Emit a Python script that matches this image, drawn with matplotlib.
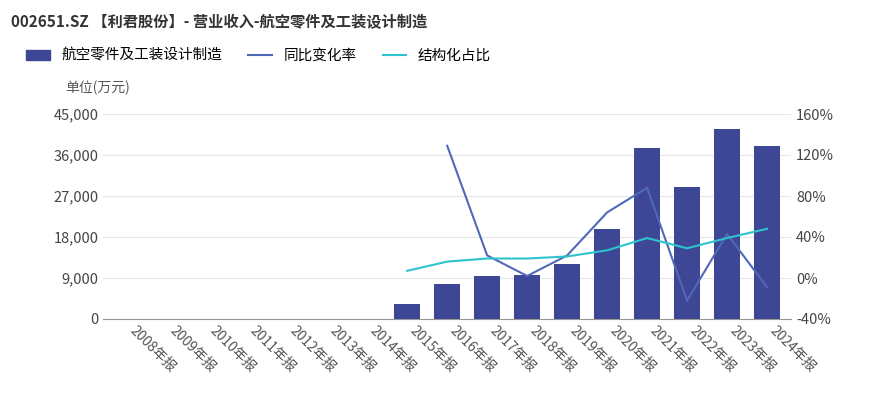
import matplotlib
matplotlib.use("Agg")
import matplotlib.pyplot as plt
from matplotlib.ticker import FuncFormatter

plt.rcParams["font.family"] = "Noto Sans CJK SC"

years = [f"{y}年报" for y in range(2008, 2025)]
revenue = [0, 0, 0, 0, 0, 0, 0, 3300, 7700, 9400, 9650, 12000, 19800, 37500, 29000, 41700, 38000]
yoy = [None]*8 + [129, 22, 2, 22, 64, 88, -22, 43, -9]
share = [None]*7 + [7, 16, 19, 19, 21, 27, 39, 29, 39, 48]

fig = plt.figure(figsize=(8.76, 4.0), dpi=100)
ax = fig.add_axes([0.118, 0.2025, 0.785, 0.5125])
x = list(range(len(years)))
ax.bar(x, revenue, width=0.65, color="#3e4795", zorder=3)
ax.set_ylim(0, 45000)
ax.set_yticks([0, 9000, 18000, 27000, 36000, 45000])
ax.yaxis.set_major_formatter(FuncFormatter(lambda v, p: f"{int(v):,}"))
ax.grid(axis="y", color="#e6e6e6", lw=0.8, zorder=0)
ax.set_xlim(-0.6, len(years) - 0.4)
ax.set_xticks(x)
ax.set_xticklabels(years, rotation=-45, ha="left", va="top", fontsize=10, color="#555")
for s in ["top", "right", "left"]:
    ax.spines[s].set_visible(False)
ax.spines["bottom"].set_color("#999")
ax.tick_params(axis="y", length=0, labelsize=10.5, labelcolor="#444")
ax.tick_params(axis="x", length=0)

ax2 = ax.twinx()
xy = [i for i, v in zip(x, yoy) if v is not None]
ax2.plot(xy, [v for v in yoy if v is not None], color="#5068b8", lw=1.5)
xs = [i for i, v in zip(x, share) if v is not None]
ax2.plot(xs, [v for v in share if v is not None], color="#2ec4cf", lw=1.5)
ax2.set_ylim(-40, 160)
ax2.set_yticks([-40, 0, 40, 80, 120, 160])
ax2.yaxis.set_major_formatter(FuncFormatter(lambda v, p: f"{int(v)}%"))
for s in ["top", "right", "left", "bottom"]:
    ax2.spines[s].set_visible(False)
ax2.tick_params(axis="y", length=0, labelsize=10.5, labelcolor="#444")

fig.text(0.012, 0.945, "002651.SZ 【利君股份】- 营业收入-航空零件及工装设计制造", fontsize=11, fontweight="bold", color="#333", va="center")
fig.text(0.075, 0.78, "单位(万元)", fontsize=10, color="#555", va="center")

from matplotlib.patches import Patch
from matplotlib.lines import Line2D
handles = [Patch(color="#3e4795"), Line2D([], [], color="#5068b8", lw=1.5), Line2D([], [], color="#2ec4cf", lw=1.5)]
fig.legend(handles, ["航空零件及工装设计制造", "同比变化率", "结构化占比"], loc="center left",
           bbox_to_anchor=(0.015, 0.86), ncol=3, frameon=False, fontsize=10.5, handlelength=1.6,
           columnspacing=1.8)
fig.savefig("out.png", dpi=100)
